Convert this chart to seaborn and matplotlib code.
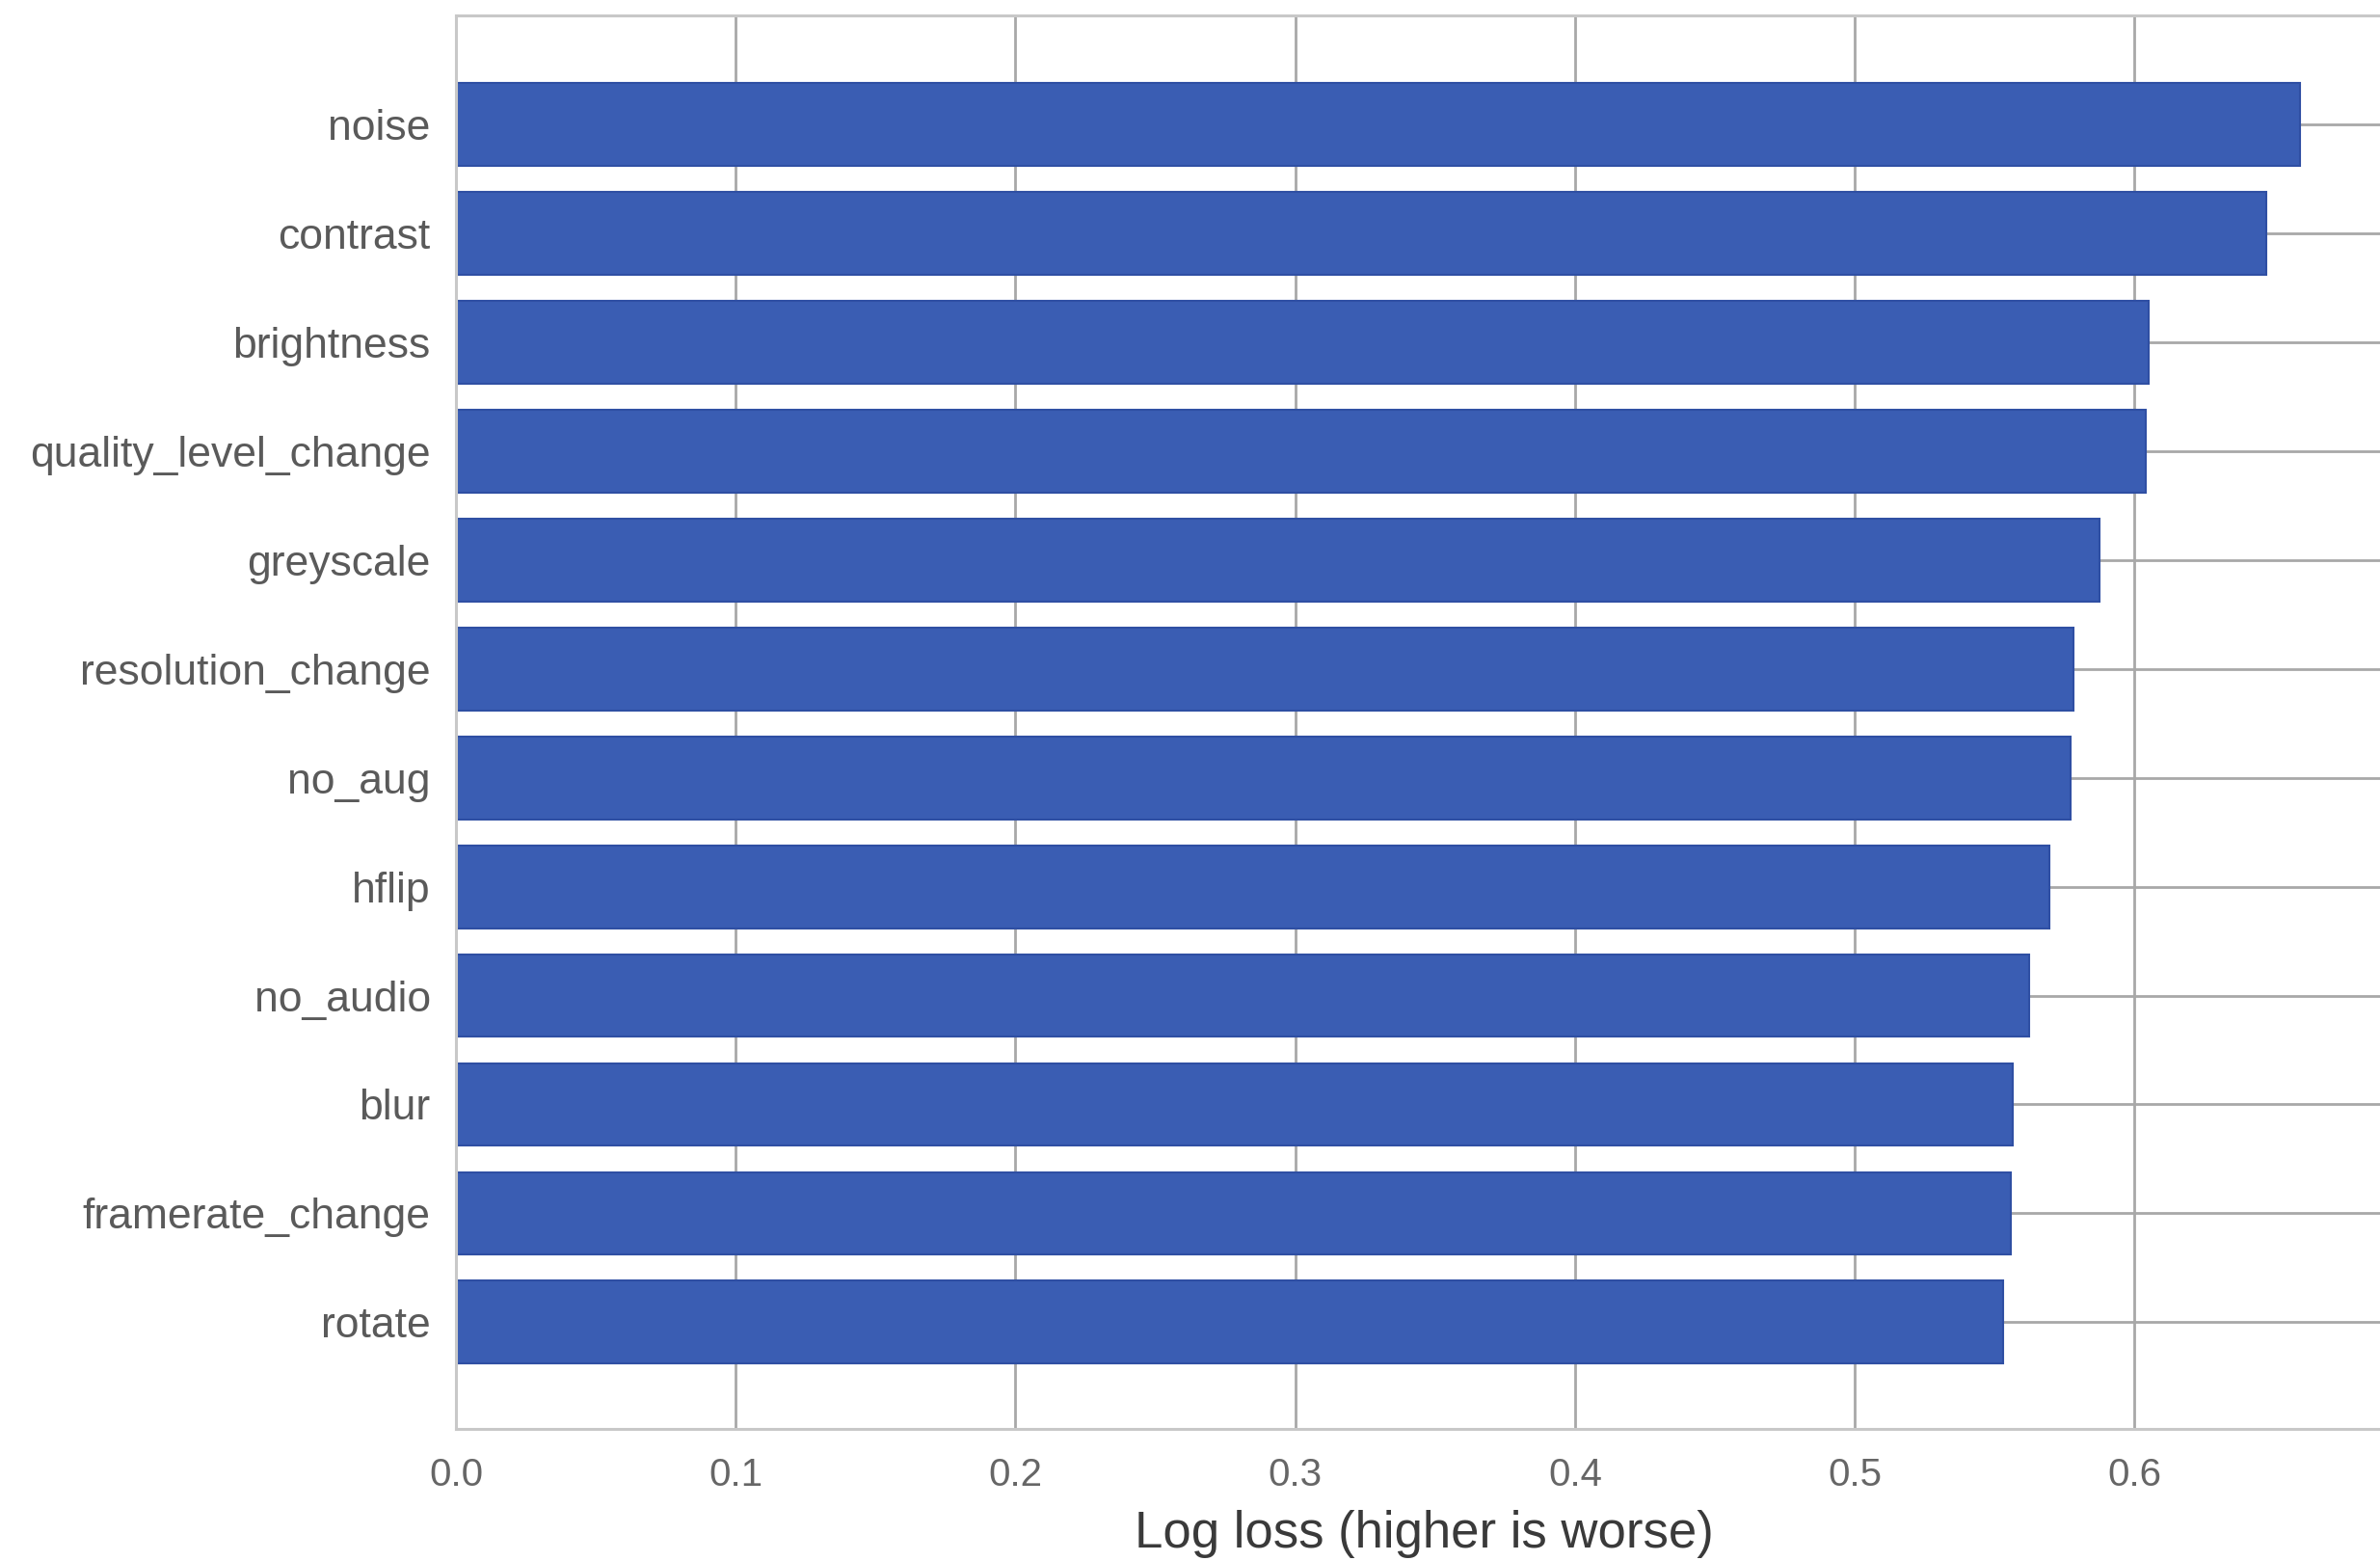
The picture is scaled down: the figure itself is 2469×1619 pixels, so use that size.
import matplotlib
matplotlib.use("Agg")
import matplotlib.pyplot as plt
import seaborn as sns
import pandas as pd

# Log loss per augmentation, sorted from worst to best
augmentations = [
    "noise", "contrast", "brightness", "quality_level_change", "greyscale",
    "resolution_change", "no_aug", "hflip", "no_audio", "blur",
    "framerate_change", "rotate",
]
log_loss = [
    0.659, 0.647, 0.605, 0.604, 0.5875,
    0.578, 0.577, 0.5695, 0.5624, 0.5565,
    0.5558, 0.5530,
]
x_ticks = [0.0, 0.1, 0.2, 0.3, 0.4, 0.5, 0.6]

df = pd.DataFrame({"augmentation": augmentations, "log_loss": log_loss})

sns.set_theme(style="whitegrid")
plt.rcParams["font.family"] = ["Liberation Sans", "DejaVu Sans"]

fig = plt.figure(figsize=(24.69, 16.19), dpi=100)
ax = fig.add_axes([0.1916, 0.0846, 0.8134, 0.9054])

sns.barplot(
    data=df, x="log_loss", y="augmentation", orient="h",
    color="#3a5db3", saturation=1, width=0.76,
    edgecolor="#2f4fa3", linewidth=1.5, ax=ax,
)

ax.set_xlim(0, 0.692)
ax.set_ylim(len(augmentations) - 0.02, -1.0)
ax.set_xticks(x_ticks)
ax.set_xticklabels([f"{t:.1f}" for t in x_ticks])
ax.set_ylabel("")
ax.set_xlabel("Log loss (higher is worse)", fontsize=38, color="#3a3a3a", labelpad=12)

ax.tick_params(axis="x", labelsize=29, colors="#666666", pad=21, length=0)
ax.tick_params(axis="y", labelsize=32, colors="#5a5a5a", pad=19, length=0)

ax.grid(True, color="#a8a8a8", linewidth=2.0)
ax.set_axisbelow(True)
for side, spine in ax.spines.items():
    spine.set_color("#c8c8c8")
    spine.set_linewidth(2.2)

fig.savefig("out.png", dpi=100, facecolor="white")
